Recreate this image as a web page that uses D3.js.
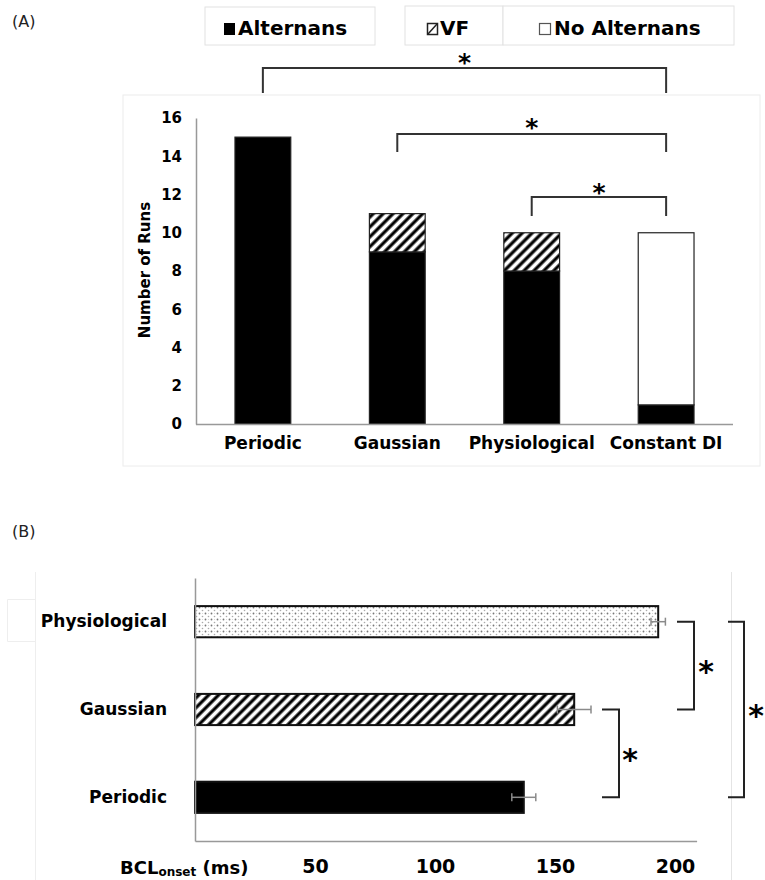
<!DOCTYPE html>
<html>
<head>
<meta charset="utf-8">
<script src="https://cdn.jsdelivr.net/npm/d3@7"></script>
<style>
  body { margin: 0; background: #fff; }
  svg { font-family: "DejaVu Sans", Verdana, sans-serif; }
</style>
</head>
<body>
<div id="chart"></div>
<script>
// Panel A: number of runs per pacing protocol
const runCategories = ["Periodic", "Gaussian", "Physiological", "Constant DI"];
const alternansRuns = [15, 9, 8, 1];
const vfRuns = [0, 2, 2, 0];
const noAlternansRuns = [0, 0, 0, 9];
const runTicks = [0, 2, 4, 6, 8, 10, 12, 14, 16];
const legendLabels = ["Alternans", "VF", "No Alternans"];

// Panel B: BCL onset (ms), mean and error
const bclCategories = ["Physiological", "Gaussian", "Periodic"];
const bclOnset = [193, 158, 137];
const bclError = [3, 7, 5];
const bclTicks = [50, 100, 150, 200];

// significance pairs
const runPairs = [["Periodic", "Constant DI"], ["Gaussian", "Constant DI"], ["Physiological", "Constant DI"]];
const bclPairs = [["Physiological", "Gaussian"], ["Gaussian", "Periodic"], ["Physiological", "Periodic"]];

const svg = d3.select("#chart").append("svg")
    .attr("width", 765)
    .attr("height", 880);

const defs = svg.append("defs");

// diagonal hatch
const hatch = defs.append("pattern")
    .attr("id", "hatch")
    .attr("patternUnits", "userSpaceOnUse")
    .attr("width", 7)
    .attr("height", 7)
    .attr("patternTransform", "rotate(45)");
hatch.append("rect").attr("width", 7).attr("height", 7).attr("fill", "#fff");
hatch.append("line")
    .attr("x1", 2).attr("y1", 0).attr("x2", 2).attr("y2", 7)
    .attr("stroke", "#000").attr("stroke-width", 3.2);

// light dots
const dots = defs.append("pattern")
    .attr("id", "dots")
    .attr("patternUnits", "userSpaceOnUse")
    .attr("width", 6)
    .attr("height", 6);
dots.append("rect").attr("width", 6).attr("height", 6).attr("fill", "#fff");
dots.append("circle").attr("cx", 1.5).attr("cy", 1.5).attr("r", 0.9).attr("fill", "#777");
dots.append("circle").attr("cx", 4.5).attr("cy", 4.5).attr("r", 0.8).attr("fill", "#aaa");
dots.append("circle").attr("cx", 4.5).attr("cy", 1.5).attr("r", 0.5).attr("fill", "#ccc");

// ---------- Panel A ----------
svg.append("text").attr("x", 12).attr("y", 27)
    .attr("font-size", 16).attr("fill", "#222").text("(A)");

// faint frame around chart area
svg.append("rect")
    .attr("x", 123).attr("y", 95).attr("width", 637).attr("height", 371)
    .attr("fill", "none").attr("stroke", "#ececec");

// legend boxes
const legend = svg.append("g");
legend.append("rect").attr("x", 205).attr("y", 7).attr("width", 170).attr("height", 38)
    .attr("fill", "#fff").attr("stroke", "#e2e2e2");
legend.append("rect").attr("x", 405).attr("y", 6).attr("width", 98).attr("height", 39)
    .attr("fill", "#fff").attr("stroke", "#e2e2e2");
legend.append("rect").attr("x", 503).attr("y", 6).attr("width", 231).attr("height", 39)
    .attr("fill", "#fff").attr("stroke", "#e2e2e2");

legend.append("rect").attr("x", 224).attr("y", 23).attr("width", 11).attr("height", 12).attr("fill", "#000");
legend.append("text").attr("x", 238).attr("y", 35).attr("font-size", 20).attr("font-weight", "bold")
    .text(legendLabels[0]);

legend.append("rect").attr("x", 427.5).attr("y", 23.5).attr("width", 10).attr("height", 11)
    .attr("fill", "#fff").attr("stroke", "#222").attr("stroke-width", 1.5);
legend.append("line").attr("x1", 428).attr("y1", 34).attr("x2", 437).attr("y2", 24)
    .attr("stroke", "#222").attr("stroke-width", 1.5);
legend.append("text").attr("x", 440).attr("y", 35).attr("font-size", 20).attr("font-weight", "bold")
    .text(legendLabels[1]);

legend.append("rect").attr("x", 539.5).attr("y", 23.5).attr("width", 11).attr("height", 11)
    .attr("fill", "#fff").attr("stroke", "#555").attr("stroke-width", 1.2);
legend.append("text").attr("x", 554).attr("y", 35).attr("font-size", 20).attr("font-weight", "bold")
    .text(legendLabels[2]);

const xA = d3.scaleBand()
    .domain(runCategories)
    .range([196, 733])
    .paddingInner(0.585)
    .paddingOuter(0.29);

const yA = d3.scaleLinear()
    .domain([0, 16])
    .range([424, 118]);

const stackRows = runCategories.map((c, i) => ({
    cat: c, alt: alternansRuns[i], vf: vfRuns[i], no: noAlternansRuns[i]
}));
const stacked = d3.stack().keys(["alt", "vf", "no"])(stackRows);
const fills = { alt: "#000", vf: "url(#hatch)", no: "#fff" };

const gA = svg.append("g");
stacked.forEach(layer => {
    gA.selectAll(null)
        .data(layer.filter(d => d[1] > d[0]))
        .enter().append("rect")
        .attr("x", d => xA(d.data.cat))
        .attr("y", d => yA(d[1]))
        .attr("width", xA.bandwidth())
        .attr("height", d => yA(d[0]) - yA(d[1]))
        .attr("fill", fills[layer.key])
        .attr("stroke", "#222")
        .attr("stroke-width", 1.2);
});

const axisA_y = svg.append("g")
    .attr("transform", "translate(196,0)")
    .call(d3.axisLeft(yA).tickValues(runTicks).tickSize(0).tickPadding(14));
axisA_y.select(".domain").attr("stroke", "#999").attr("stroke-width", 1.5);
axisA_y.selectAll("text").attr("font-size", 15).attr("font-weight", "bold")
    .attr("font-family", "DejaVu Sans");

const axisA_x = svg.append("g")
    .attr("transform", "translate(0,424)")
    .call(d3.axisBottom(xA).tickSize(0).tickPadding(13));
axisA_x.select(".domain").attr("stroke", "#999").attr("stroke-width", 1.5)
    .attr("d", "M196,0.5H733");
axisA_x.selectAll("text").attr("font-size", 17).attr("font-weight", "bold")
    .attr("font-family", "DejaVu Sans");

svg.append("text")
    .attr("transform", "translate(150,270) rotate(-90)")
    .attr("text-anchor", "middle")
    .attr("font-size", 15).attr("font-weight", "bold")
    .text("Number of Runs");

// significance brackets (A): top, drop and star positions in px
const bracketA = [
    { top: 68, drop: 93, star: 57 },
    { top: 134, drop: 152, star: 122 },
    { top: 197, drop: 216, star: 187 }
];
runPairs.forEach((p, i) => {
    const x1 = xA(p[0]) + xA.bandwidth() / 2;
    const x2 = xA(p[1]) + xA.bandwidth() / 2;
    const b = bracketA[i];
    svg.append("path")
        .attr("d", `M${x1},${b.drop}V${b.top}H${x2}V${b.drop}`)
        .attr("fill", "none").attr("stroke", "#333").attr("stroke-width", 2);
    svg.append("text")
        .attr("x", (x1 + x2) / 2).attr("y", b.star + 0.56 * 25)
        .attr("text-anchor", "middle").attr("font-size", 25).attr("font-weight", "bold")
        .text("*");
});

// ---------- Panel B ----------
svg.append("text").attr("x", 12).attr("y", 537)
    .attr("font-size", 16).attr("fill", "#222").text("(B)");

svg.append("line").attr("x1", 35.5).attr("x2", 35.5).attr("y1", 572).attr("y2", 880)
    .attr("stroke", "#eee");
svg.append("line").attr("x1", 731.5).attr("x2", 731.5).attr("y1", 572).attr("y2", 880)
    .attr("stroke", "#e4e4e4");
svg.append("path").attr("d", "M35,599.5H7.5V641.5H35")
    .attr("fill", "none").attr("stroke", "#eee");

const xB = d3.scaleLinear()
    .domain([0, 209])
    .range([195, 195 + 2.4 * 209]);

const yB = d3.scaleBand()
    .domain(bclCategories)
    .range([578, 841])
    .paddingInner(0.645)
    .paddingOuter(0.32);

const bclFills = { Physiological: "url(#dots)", Gaussian: "url(#hatch)", Periodic: "#000" };
const bclRows = bclCategories.map((c, i) => ({ cat: c, v: bclOnset[i], e: bclError[i] }));

svg.selectAll(".bcl-bar")
    .data(bclRows)
    .enter().append("rect")
    .attr("class", "bcl-bar")
    .attr("x", xB(0))
    .attr("y", d => yB(d.cat))
    .attr("width", d => xB(d.v) - xB(0))
    .attr("height", yB.bandwidth())
    .attr("fill", d => bclFills[d.cat])
    .attr("stroke", "#111")
    .attr("stroke-width", 2);

// error bars
const err = svg.append("g").attr("stroke", "#8a8a8a").attr("stroke-width", 1.5);
bclRows.forEach(d => {
    const cy = yB(d.cat) + yB.bandwidth() / 2;
    err.append("line").attr("x1", xB(d.v - d.e)).attr("x2", xB(d.v + d.e)).attr("y1", cy).attr("y2", cy);
    err.append("line").attr("x1", xB(d.v - d.e)).attr("x2", xB(d.v - d.e)).attr("y1", cy - 4).attr("y2", cy + 4);
    err.append("line").attr("x1", xB(d.v + d.e)).attr("x2", xB(d.v + d.e)).attr("y1", cy - 4).attr("y2", cy + 4);
});

const axisB_y = svg.append("g")
    .attr("transform", "translate(195,0)")
    .call(d3.axisLeft(yB).tickSize(0).tickPadding(28));
axisB_y.select(".domain").attr("stroke", "#999").attr("stroke-width", 1.5);
axisB_y.selectAll("text").attr("font-size", 17).attr("font-weight", "bold")
    .attr("font-family", "DejaVu Sans");

const axisB_x = svg.append("g")
    .attr("transform", "translate(0,841)")
    .call(d3.axisBottom(xB).tickValues(bclTicks).tickSize(0).tickPadding(19));
axisB_x.select(".domain").attr("stroke", "#999").attr("stroke-width", 1.5);
axisB_x.selectAll("text").attr("font-size", 19).attr("font-weight", "bold")
    .attr("font-family", "DejaVu Sans");

const bclTitle = svg.append("text")
    .attr("x", 120).attr("y", 874)
    .attr("font-size", 18).attr("font-weight", "bold");
bclTitle.append("tspan").text("BCL");
bclTitle.append("tspan").attr("font-size", 12).attr("dy", 2).text("onset");
bclTitle.append("tspan").attr("dy", -2).attr("font-size", 18).text(" (ms)");

// significance brackets (B): horizontal position in px
const bracketB = [
    { x0: 677, x1: 694, star: 706 },
    { x0: 602, x1: 619, star: 630 },
    { x0: 728, x1: 744, star: 756 }
];
bclPairs.forEach((p, i) => {
    const y1 = yB(p[0]) + yB.bandwidth() / 2;
    const y2 = yB(p[1]) + yB.bandwidth() / 2;
    const b = bracketB[i];
    svg.append("path")
        .attr("d", `M${b.x0},${y1}H${b.x1}V${y2}H${b.x0}`)
        .attr("fill", "none").attr("stroke", "#222").attr("stroke-width", 2);
    svg.append("text")
        .attr("x", b.star).attr("y", (y1 + y2) / 2 + 0.56 * 30)
        .attr("text-anchor", "middle").attr("font-size", 30).attr("font-weight", "bold")
        .text("*");
});
</script>
</body>
</html>
